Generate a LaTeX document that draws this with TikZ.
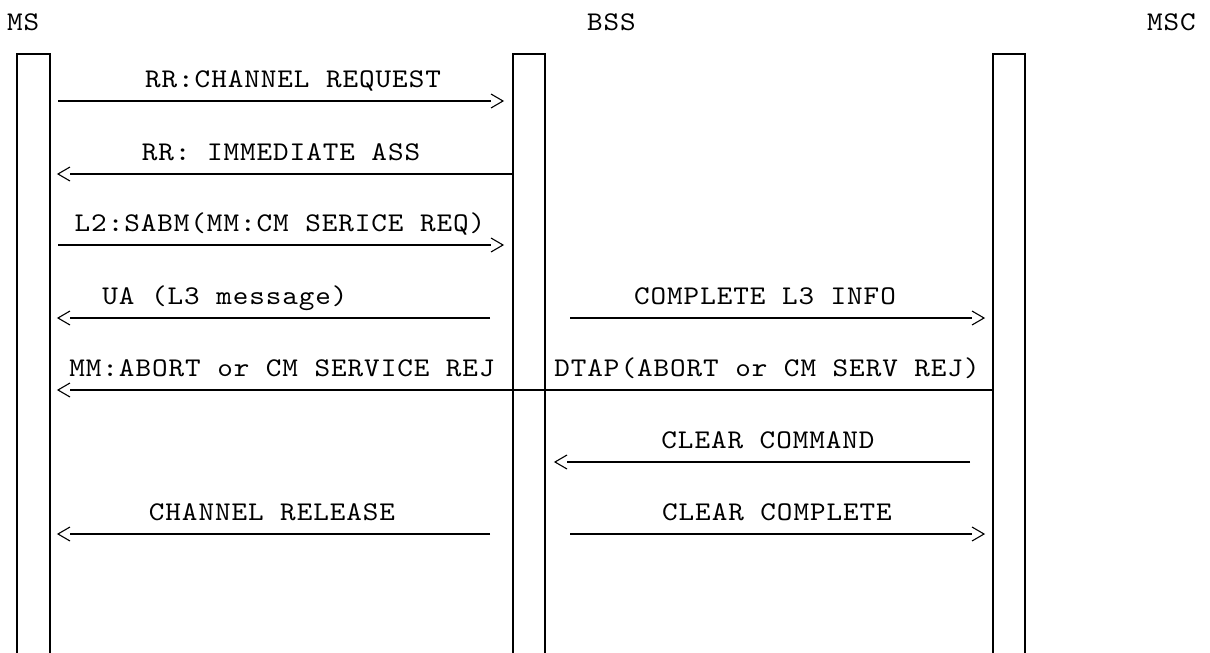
\documentclass[tikz,border=0pt]{standalone}
\usepackage{fontspec}
\newfontfamily\diagmono{lmmono10-regular.otf}[FakeStretch=1.1,LetterSpace=3.5]
\begin{document}
\begin{tikzpicture}[x=1pt,y=-1pt,
  every node/.style={inner sep=0pt, outer sep=0pt},
  lbl/.style={font=\diagmono\fontsize{27}{30}\selectfont, anchor=base},
  ttl/.style={font=\diagmono\fontsize{27}{30}\selectfont, anchor=base west},
  life/.style={line width=2pt},
  msg/.style={line width=1.8pt},
  chev/.style={line width=1.1pt},
  pics/rhead/.style={code={\draw[chev] (-12,-7) -- (0,0) -- (-12,7);}},
  pics/lhead/.style={code={\draw[chev] (12,-7) -- (0,0) -- (12,7);}}]
\useasboundingbox (0,0) rectangle (1210,653);
% titles
\node[ttl] (tms) at (7,30) {MS};
\node[ttl] (tbss) at (587,30) {BSS};
\node[ttl] (tmsc) at (1147,30) {MSC};
% lifeline boxes
\coordinate (msl) at (17,653); \coordinate (msr) at (50,653);
\coordinate (bsl) at (513,653); \coordinate (bsr) at (545,653);
\coordinate (mcl) at (993,653); \coordinate (mcr) at (1025,653);
\draw[life] (msl) |- (50,54) -- (msr);
\draw[life] (bsl) |- (545,54) -- (bsr);
\draw[life] (mcl) |- (1025,54) -- (mcr);
% row 1
\node[lbl] (t1) at (293,87) {RR:CHANNEL REQUEST};
\coordinate (a1s) at (58,101); \coordinate (a1e) at (491,101); \coordinate (a1h) at (503,101);
\draw[msg] (a1s) -- (a1e); \pic at (a1h) {rhead};
% row 2
\node[lbl] (t2) at (281,160) {RR: IMMEDIATE ASS};
\coordinate (a2h) at (58,174); \coordinate (a2e) at (70,174); \coordinate (a2s) at (513,174);
\draw[msg] (a2s) -- (a2e); \pic at (a2h) {lhead};
% row 3
\node[lbl] (t3) at (280,231) {L2:SABM(MM:CM SERICE REQ)};
\coordinate (a3s) at (58,245); \coordinate (a3e) at (491,245); \coordinate (a3h) at (503,245);
\draw[msg] (a3s) -- (a3e); \pic at (a3h) {rhead};
% row 4
\node[lbl] (t4) at (225,304) {UA (L3 message)};
\node[lbl] (t4b) at (765,304) {COMPLETE L3 INFO};
\coordinate (a4h) at (58,318); \coordinate (a4e) at (70,318); \coordinate (a4s) at (490,318);
\draw[msg] (a4s) -- (a4e); \pic at (a4h) {lhead};
\coordinate (b4s) at (570,318); \coordinate (b4e) at (972,318); \coordinate (b4h) at (984,318);
\draw[msg] (b4s) -- (b4e); \pic at (b4h) {rhead};
% row 5
\node[lbl] (t5) at (282,376) {MM:ABORT or CM SERVICE REJ};
\node[lbl] (t5b) at (767,376) {DTAP(ABORT or CM SERV REJ)};
\coordinate (a5h) at (58,390); \coordinate (a5e) at (70,390); \coordinate (a5s) at (993,390);
\draw[msg] (a5s) -- (a5e); \pic at (a5h) {lhead};
% row 6
\node[lbl] (t6) at (768,448) {CLEAR COMMAND};
\coordinate (a6h) at (555,462); \coordinate (a6e) at (567,462); \coordinate (a6s) at (970,462);
\draw[msg] (a6s) -- (a6e); \pic at (a6h) {lhead};
% row 7
\node[lbl] (t7) at (272,520) {CHANNEL RELEASE};
\node[lbl] (t7b) at (777,520) {CLEAR COMPLETE};
\coordinate (a7h) at (58,534); \coordinate (a7e) at (70,534); \coordinate (a7s) at (490,534);
\draw[msg] (a7s) -- (a7e); \pic at (a7h) {lhead};
\coordinate (b7s) at (570,534); \coordinate (b7e) at (972,534); \coordinate (b7h) at (984,534);
\draw[msg] (b7s) -- (b7e); \pic at (b7h) {rhead};
\end{tikzpicture}
\end{document}
